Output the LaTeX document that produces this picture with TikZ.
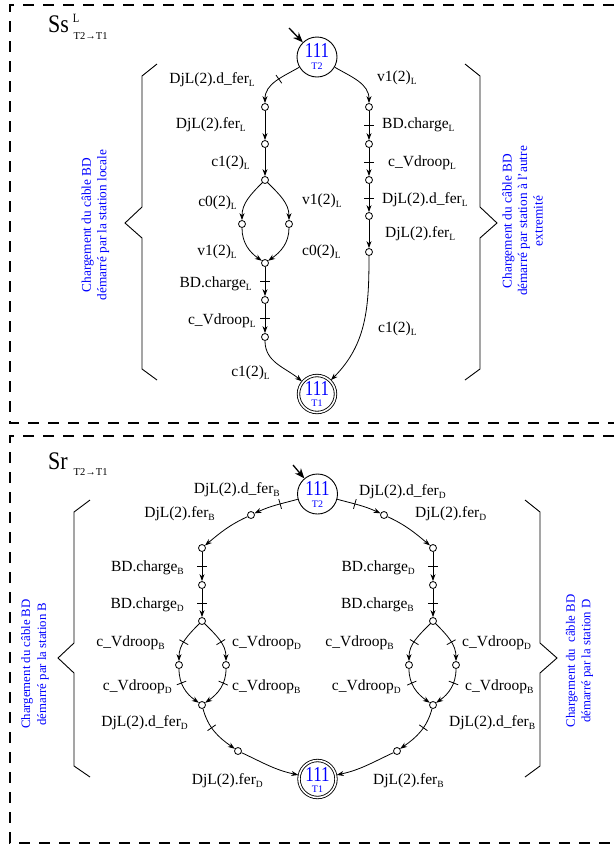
\documentclass[tikz,border=0pt]{standalone}
\usepackage{fontspec}
\setmainfont{Liberation Serif}
\usetikzlibrary{arrows.meta,decorations.markings}
\newcommand\sbs[1]{\raisebox{-3pt}{\fontsize{9.5}{10}\selectfont #1}}
\tikzset{
 st/.style={circle,draw,fill=white,minimum size=7pt,inner sep=0pt,line width=0.8pt},
 big/.style={circle,draw,minimum size=40pt,inner sep=0pt,line width=0.9pt},
 fin/.style={circle,draw,double,double distance=1.6pt,line width=0.85pt,minimum size=37pt,inner sep=0pt,outer sep=1.2pt},
 tr/.style={line width=0.8pt,-{Stealth[length=7pt,width=5pt]}},
 obs/.style={postaction={decorate,decoration={markings,mark=at position #1 with {\draw[line width=0.8pt,-] (0,-5pt)--(0,5pt);}}}},
 obs/.default=0.5,
 lab/.style={inner sep=0pt,font=\fontsize{15.5}{18}\selectfont},
 bl/.style={text=blue,rotate=90,align=center,inner sep=0pt,font=\fontsize{13.3}{15.5}\selectfont},
 frame/.style={line width=1.2pt,dash pattern=on 11pt off 9pt},
 brace/.style={line width=0.9pt},
 num/.style={text=blue,inner sep=0pt,font=\fontsize{17}{17}\selectfont},
 tsub/.style={text=blue,inner sep=0pt,font=\fontsize{10}{10}\selectfont},
 init/.style={line width=1.3pt,-{Stealth[length=10pt,width=8pt]}},
 ttl/.style={inner sep=0pt,anchor=base west,font=\fontsize{22}{22}\selectfont},
 tsb/.style={inner sep=0pt,anchor=west,font=\fontsize{10.5}{11}\selectfont},
}
\begin{document}
\begin{tikzpicture}[x=1pt,y=1pt]
\useasboundingbox (0,0) rectangle (614,-847);
% frames
\draw[frame] (614,-5) -- (10,-5) -- (10,-423) -- (614,-423);
\draw[frame] (614,-436) -- (10,-436) -- (10,-843) -- (614,-843);

% ================= TOP =================
\node[ttl] (t1) at (48,-32) {\scalebox{1}[1.15]{Ss}};
\node[inner sep=0pt,font=\fontsize{10.5}{11}\selectfont] (t1s) at (76,-18) {\scalebox{1}[1.2]{L}};
\node[tsb] (t1b) at (73.5,-36) {T2→T1};

\node[big] (i1) at (317,-57) {};
\node[num] (i1n) at (317,-50) {\scalebox{1}[1.25]{111}};
\node[tsub] (i1t) at (317,-66) {T2};
\node[fin] (f1) at (317,-394) {};
\node[num] (f1n) at (317,-388) {\scalebox{1}[1.25]{111}};
\node[tsub] (f1t) at (317,-403) {T1};
\coordinate (s1) at (289,-28);
\draw[init] (s1) -- (i1);

\node[st] (l1) at (265,-107) {};
\node[st] (l2) at (265,-144) {};
\node[st] (l3) at (265,-180) {};
\node[st] (l4) at (242,-224) {};
\node[st] (l5) at (289,-224) {};
\node[st] (l6) at (265,-263) {};
\node[st] (l7) at (265,-300) {};
\node[st] (l8) at (265,-337) {};
\node[st] (r1) at (369,-107) {};
\node[st] (r2) at (369,-144) {};
\node[st] (r3) at (369,-180) {};
\node[st] (r4) at (369,-216) {};
\node[st] (r5) at (369,-252) {};

\draw[tr,obs=0.45] (i1) to[out=210,in=90] (l1);
\draw[tr] (l1) -- (l2);
\draw[tr] (l2) -- (l3);
\draw[tr] (l3) to[out=225,in=90] (l4);
\draw[tr] (l3) to[out=-45,in=90] (l5);
\draw[tr] (l4) to[out=-90,in=145] (l6);
\draw[tr] (l5) to[out=-90,in=35] (l6);
\draw[tr,obs] (l6) -- (l7);
\draw[tr,obs] (l7) -- (l8);
\draw[tr] (l8) to[out=-90,in=140] (f1);
\draw[tr] (i1) to[out=-30,in=90] (r1);
\draw[tr,obs] (r1) -- (r2);
\draw[tr,obs] (r2) -- (r3);
\draw[tr,obs] (r3) -- (r4);
\draw[tr] (r4) -- (r5);
\draw[tr] (r5) to[out=-90,in=45] (f1);

\node[lab,anchor=east] (a01) at (255,-80) {DjL(2).d\_fer\sbs{L}};
\node[lab,anchor=east] (a02) at (246,-125) {DjL(2).fer\sbs{L}};
\node[lab,anchor=east] (a03) at (250,-163) {c1(2)\sbs{L}};
\node[lab,anchor=east] (a04) at (237,-203) {c0(2)\sbs{L}};
\node[lab,anchor=west] (a05) at (302,-201) {v1(2)\sbs{L}};
\node[lab,anchor=east] (a06) at (237,-252) {v1(2)\sbs{L}};
\node[lab,anchor=west] (a07) at (302,-252) {c0(2)\sbs{L}};
\node[lab,anchor=east] (a08) at (252,-284) {BD.charge\sbs{L}};
\node[lab,anchor=east] (a09) at (256,-321) {c\_Vdroop\sbs{L}};
\node[lab,anchor=east] (a10) at (270,-373) {c1(2)\sbs{L}};
\node[lab,anchor=west] (a11) at (377,-78) {v1(2)\sbs{L}};
\node[lab,anchor=west] (a12) at (382,-125) {BD.charge\sbs{L}};
\node[lab,anchor=west] (a13) at (388,-163) {c\_Vdroop\sbs{L}};
\node[lab,anchor=west] (a14) at (382,-200) {DjL(2).d\_fer\sbs{L}};
\node[lab,anchor=west] (a15) at (385,-234) {DjL(2).fer\sbs{L}};
\node[lab,anchor=west] (a16) at (378,-329) {c1(2)\sbs{L}};

\draw[brace] (157,-64) -- (142,-76) -- (142,-207) -- (125,-223) -- (142,-238) -- (142,-369) -- (157,-380);
\draw[brace] (465,-64) -- (480,-76) -- (480,-207) -- (497,-223) -- (480,-238) -- (480,-369) -- (465,-380);
\node[bl] (bt1) at (95.5,-225) {Chargement du câble BD\\démarré par la station locale};
\node[bl] (bt2) at (522.5,-221) {Chargement du câble BD\\démarré par station à l'autre\\extremité};

% ================= BOTTOM =================
\node[ttl] (t2) at (48,-469) {\scalebox{1}[1.15]{Sr}};
\node[tsb] (t2b) at (73.5,-472) {T2→T1};

\node[big] (i2) at (317.5,-494) {};
\node[num] (i2n) at (317.5,-488) {\scalebox{1}[1.25]{111}};
\node[tsub] (i2t) at (317.5,-504) {T2};
\node[fin] (f2) at (317.5,-779) {};
\node[num] (f2n) at (317.5,-774) {\scalebox{1}[1.25]{111}};
\node[tsub] (f2t) at (317.5,-789) {T1};
\coordinate (s2) at (293,-465);
\draw[init] (s2) -- (i2);

\node[st] (p1) at (251,-515) {};
\node[st] (p2) at (202,-548) {};
\node[st] (p3) at (202,-585) {};
\node[st] (p4) at (202,-621) {};
\node[st] (p5) at (179,-665) {};
\node[st] (p6) at (226,-665) {};
\node[st] (p7) at (202,-705) {};
\node[st] (p8) at (238,-751) {};
\node[st] (q1) at (384,-515) {};
\node[st] (q2) at (433,-548) {};
\node[st] (q3) at (433,-585) {};
\node[st] (q4) at (433,-621) {};
\node[st] (q5) at (409,-665) {};
\node[st] (q6) at (456,-665) {};
\node[st] (q7) at (433,-705) {};
\node[st] (q8) at (397,-751) {};

\draw[tr,obs=0.4] (i2) to[out=195,in=25] (p1);
\draw[tr] (p1) to[out=205,in=40] (p2);
\draw[tr,obs] (p2) -- (p3);
\draw[tr,obs] (p3) -- (p4);
\draw[tr,obs=0.55] (p4) to[out=225,in=90] (p5);
\draw[tr,obs=0.55] (p4) to[out=-45,in=90] (p6);
\draw[tr,obs=0.35] (p5) to[out=-90,in=145] (p7);
\draw[tr,obs=0.35] (p6) to[out=-90,in=35] (p7);
\draw[tr,obs=0.4] (p7) to[out=-75,in=145] (p8);
\draw[tr] (p8) to[out=-25,in=168] (f2);
\draw[tr,obs=0.4] (i2) to[out=-15,in=155] (q1);
\draw[tr] (q1) to[out=-25,in=140] (q2);
\draw[tr,obs] (q2) -- (q3);
\draw[tr,obs] (q3) -- (q4);
\draw[tr,obs=0.55] (q4) to[out=225,in=90] (q5);
\draw[tr,obs=0.55] (q4) to[out=-45,in=90] (q6);
\draw[tr,obs=0.35] (q5) to[out=-90,in=145] (q7);
\draw[tr,obs=0.35] (q6) to[out=-90,in=35] (q7);
\draw[tr,obs=0.4] (q7) to[out=-105,in=35] (q8);
\draw[tr] (q8) to[out=-155,in=12] (f2);

\node[lab,anchor=east] (b01) at (280,-490) {DjL(2).d\_fer\sbs{B}};
\node[lab,anchor=east] (b02) at (215,-514) {DjL(2).fer\sbs{B}};
\node[lab,anchor=east] (b03) at (184,-568) {BD.charge\sbs{B}};
\node[lab,anchor=east] (b04) at (184,-605) {BD.charge\sbs{D}};
\node[lab,anchor=east] (b05) at (165,-643) {c\_Vdroop\sbs{B}};
\node[lab,anchor=west] (b06) at (232,-643) {c\_Vdroop\sbs{D}};
\node[lab,anchor=east] (b07) at (172,-687) {c\_Vdroop\sbs{D}};
\node[lab,anchor=west] (b08) at (232,-687) {c\_Vdroop\sbs{B}};
\node[lab,anchor=east] (b09) at (188,-723) {DjL(2).d\_fer\sbs{D}};
\node[lab,anchor=east] (b10) at (263,-781) {DjL(2).fer\sbs{D}};
\node[lab,anchor=west] (b11) at (359,-492) {DjL(2).d\_fer\sbs{D}};
\node[lab,anchor=west] (b12) at (415,-514) {DjL(2).fer\sbs{D}};
\node[lab,anchor=east] (b13) at (415,-568) {BD.charge\sbs{D}};
\node[lab,anchor=east] (b14) at (414,-605) {BD.charge\sbs{B}};
\node[lab,anchor=east] (b15) at (394,-643) {c\_Vdroop\sbs{B}};
\node[lab,anchor=west] (b16) at (462,-643) {c\_Vdroop\sbs{D}};
\node[lab,anchor=east] (b17) at (401,-687) {c\_Vdroop\sbs{D}};
\node[lab,anchor=west] (b18) at (465,-687) {c\_Vdroop\sbs{B}};
\node[lab,anchor=west] (b19) at (449,-723) {DjL(2).d\_fer\sbs{B}};
\node[lab,anchor=west] (b20) at (373,-781) {DjL(2).fer\sbs{B}};

\draw[brace] (90,-500) -- (74,-512) -- (74,-643) -- (58,-658) -- (74,-673) -- (74,-766) -- (90,-777);
\draw[brace] (525,-500) -- (540,-512) -- (540,-643) -- (557,-658) -- (540,-673) -- (540,-766) -- (525,-777);
\node[bl,font=\fontsize{12.8}{16}\selectfont] (bb1) at (35,-664) {Chargement du câble BD\\démarré par la station B};
\node[bl,font=\fontsize{12.8}{15.5}\selectfont] (bb2) at (579.5,-661) {Chargement du\ \ câble BD\\démarré par la station D};
\end{tikzpicture}
\end{document}
